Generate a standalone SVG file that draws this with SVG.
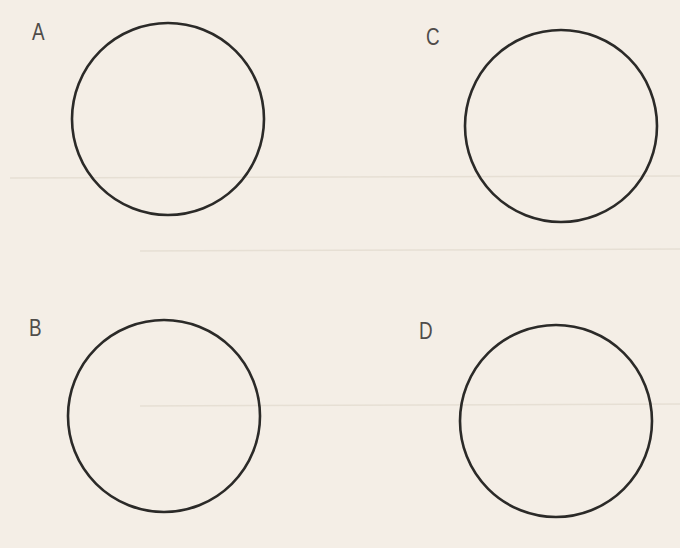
<svg xmlns="http://www.w3.org/2000/svg" width="680" height="548" viewBox="0 0 680 548">
<style>
.c{fill:none;stroke:#2b2a28;stroke-width:2.6}
.l{font-family:"Liberation Sans",Arial,sans-serif;font-size:23px;fill:#4f4c4a}
.r{stroke:#e6dfd4;stroke-width:1.5}
</style>
<rect width="680" height="548" fill="#f4eee6"/>
<g id="paper">
<line class="r" x1="10" y1="178" x2="680" y2="176"/>
<line class="r" x1="140" y1="251" x2="680" y2="249"/>
<line class="r" x1="140" y1="406" x2="680" y2="404"/>
</g>
<g id="A"><circle class="c" cx="168" cy="119" r="96"/><text class="l" transform="translate(32 40) scale(0.82 1)">A</text></g>
<g id="C"><circle class="c" cx="561" cy="126" r="96"/><text class="l" transform="translate(426 45) scale(0.82 1)">C</text></g>
<g id="B"><circle class="c" cx="164" cy="416" r="96"/><text class="l" transform="translate(29 336) scale(0.82 1)">B</text></g>
<g id="D"><circle class="c" cx="556" cy="421" r="96"/><text class="l" transform="translate(419 339) scale(0.82 1)">D</text></g>
</svg>
